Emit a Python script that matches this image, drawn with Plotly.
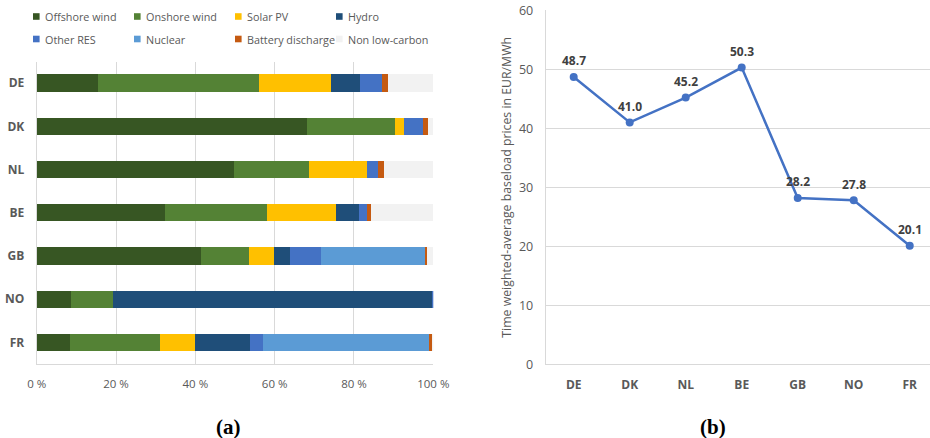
import plotly.graph_objects as go

# Generation mix per country (share of generation, %)
countries = ["DE", "DK", "NL", "BE", "GB", "NO", "FR"]
offshore_wind = [15.5, 68.2, 49.8, 32.4, 41.5, 8.6, 8.4]
onshore_wind = [40.6, 22.2, 18.9, 25.6, 12.0, 10.6, 22.8]
solar_pv = [18.0, 2.3, 14.6, 17.5, 6.3, 0.0, 8.6]
hydro = [7.4, 0.0, 0.0, 5.8, 4.1, 80.6, 14.1]
other_res = [5.6, 4.8, 2.7, 2.1, 7.8, 0.2, 3.2]
nuclear = [0.0, 0.0, 0.0, 0.0, 26.3, 0.0, 41.9]
battery_discharge = [1.5, 1.2, 1.6, 1.0, 0.3, 0.0, 0.7]
non_low_carbon = [11.4, 1.3, 12.4, 15.6, 1.7, 0.0, 0.3]

# Time weighted-average baseload prices (EUR/MWh)
prices = [48.7, 41.0, 45.2, 50.3, 28.2, 27.8, 20.1]

x_ticks = [0, 20, 40, 60, 80, 100]
x_tick_labels = ["0 %", "20 %", "40 %", "60 %", "80 %", "100 %"]
y_ticks = [0, 10, 20, 30, 40, 50, 60]

series = [
    ("Offshore wind", offshore_wind, "#375623"),
    ("Onshore wind", onshore_wind, "#548235"),
    ("Solar PV", solar_pv, "#FFC000"),
    ("Hydro", hydro, "#1F4E79"),
    ("Other RES", other_res, "#4472C4"),
    ("Nuclear", nuclear, "#5B9BD5"),
    ("Battery discharge", battery_discharge, "#C55A11"),
    ("Non low-carbon", non_low_carbon, "#F2F2F2"),
]

W, H = 930, 438
FONT = "Open Sans"
GRAY = "#595959"
GRID = "#D9D9D9"


def px(x):
    return x / W


def py(y):
    return 1 - y / H


fig = go.Figure()

for name, vals, color in series:
    fig.add_trace(go.Bar(
        y=countries, x=vals, name=name, orientation="h",
        marker=dict(color=color, line=dict(width=0)),
        width=0.4, xaxis="x", yaxis="y", showlegend=False,
    ))

fig.add_trace(go.Scatter(
    x=countries, y=prices, mode="lines+markers",
    line=dict(color="#4472C4", width=2.5),
    marker=dict(color="#4472C4", size=8),
    xaxis="x2", yaxis="y2", showlegend=False, cliponaxis=False,
))

shapes = []
annotations = []

# Price labels above each point
for c, p in zip(countries, prices):
    annotations.append(dict(
        text=f"<b>{p:.1f}</b>", xref="x2", yref="y2", x=c, y=p,
        yshift=16, showarrow=False, xanchor="center", yanchor="middle",
        font=dict(family=FONT, size=12, color="#404040"),
    ))

# Legend drawn as swatches + labels in two rows of four
col_x = [33, 134, 235, 336]
row_y = [16.5, 39]
for i, (name, _, color) in enumerate(series):
    cx = col_x[i % 4]
    cy = row_y[i // 4]
    shapes.append(dict(
        type="rect", xref="paper", yref="paper",
        x0=px(cx), x1=px(cx + 6.6), y0=py(cy - 3.3), y1=py(cy + 3.3),
        fillcolor=color, line=dict(width=0),
    ))
    annotations.append(dict(
        text=name, xref="paper", yref="paper", x=px(cx + 9.5), y=py(cy),
        xanchor="left", yanchor="middle", showarrow=False,
        font=dict(family=FONT, size=10.8, color=GRAY),
    ))

annotations.append(dict(
    text="<b>(a)</b>", xref="paper", yref="paper", x=px(228), y=py(427),
    xanchor="center", yanchor="middle", showarrow=False,
    font=dict(family="Liberation Serif", size=21, color="black"),
))
annotations.append(dict(
    text="<b>(b)</b>", xref="paper", yref="paper", x=px(713), y=py(427),
    xanchor="center", yanchor="middle", showarrow=False,
    font=dict(family="Liberation Serif", size=21, color="black"),
))

fig.update_layout(
    width=W, height=H,
    margin=dict(l=0, r=0, t=0, b=0, autoexpand=False),
    paper_bgcolor="white", plot_bgcolor="white",
    barmode="stack",
    font=dict(family=FONT, color=GRAY),
    shapes=shapes, annotations=annotations,
    xaxis=dict(
        domain=[px(36.7), px(433.3)], range=[0, 100],
        tickvals=x_ticks, ticktext=x_tick_labels,
        showgrid=True, gridcolor=GRID, gridwidth=1,
        showline=True, linecolor=GRID, linewidth=1,
        zeroline=False, ticks="", automargin=False,
        tickfont=dict(family=FONT, size=11.5, color=GRAY),
        ticklabelstandoff=9, anchor="y",
    ),
    yaxis=dict(
        domain=[py(364), py(61.5)],
        categoryorder="array", categoryarray=countries,
        range=[6.5, -0.5], automargin=False,
        showgrid=False, showline=True, linecolor=GRID, linewidth=1,
        ticks="", tickfont=dict(family=FONT, size=12, color=GRAY, weight="bold"),
        ticklabelstandoff=9, anchor="x",
    ),
    xaxis2=dict(
        domain=[px(545.7), 1.0], range=[-0.5, 6.362],
        type="category", categoryorder="array", categoryarray=countries,
        showgrid=False, showline=True, linecolor=GRID, linewidth=1,
        ticks="", automargin=False,
        tickfont=dict(family=FONT, size=12, color=GRAY, weight="bold"),
        ticklabelstandoff=9, anchor="y2",
    ),
    yaxis2=dict(
        domain=[py(364.3), py(10.3)], range=[0, 60],
        tickvals=y_ticks, automargin=False,
        showgrid=True, gridcolor=GRID, gridwidth=1,
        showline=True, linecolor=GRID, linewidth=1,
        zeroline=False, ticks="",
        tickfont=dict(family=FONT, size=12.5, color=GRAY),
        ticklabelstandoff=9, anchor="x2",
        title=dict(text="Time weighted-average baseload prices in EUR/MWh",
                   font=dict(family=FONT, size=12.3, color=GRAY), standoff=4),
    ),
)

fig.write_html("out.html")
